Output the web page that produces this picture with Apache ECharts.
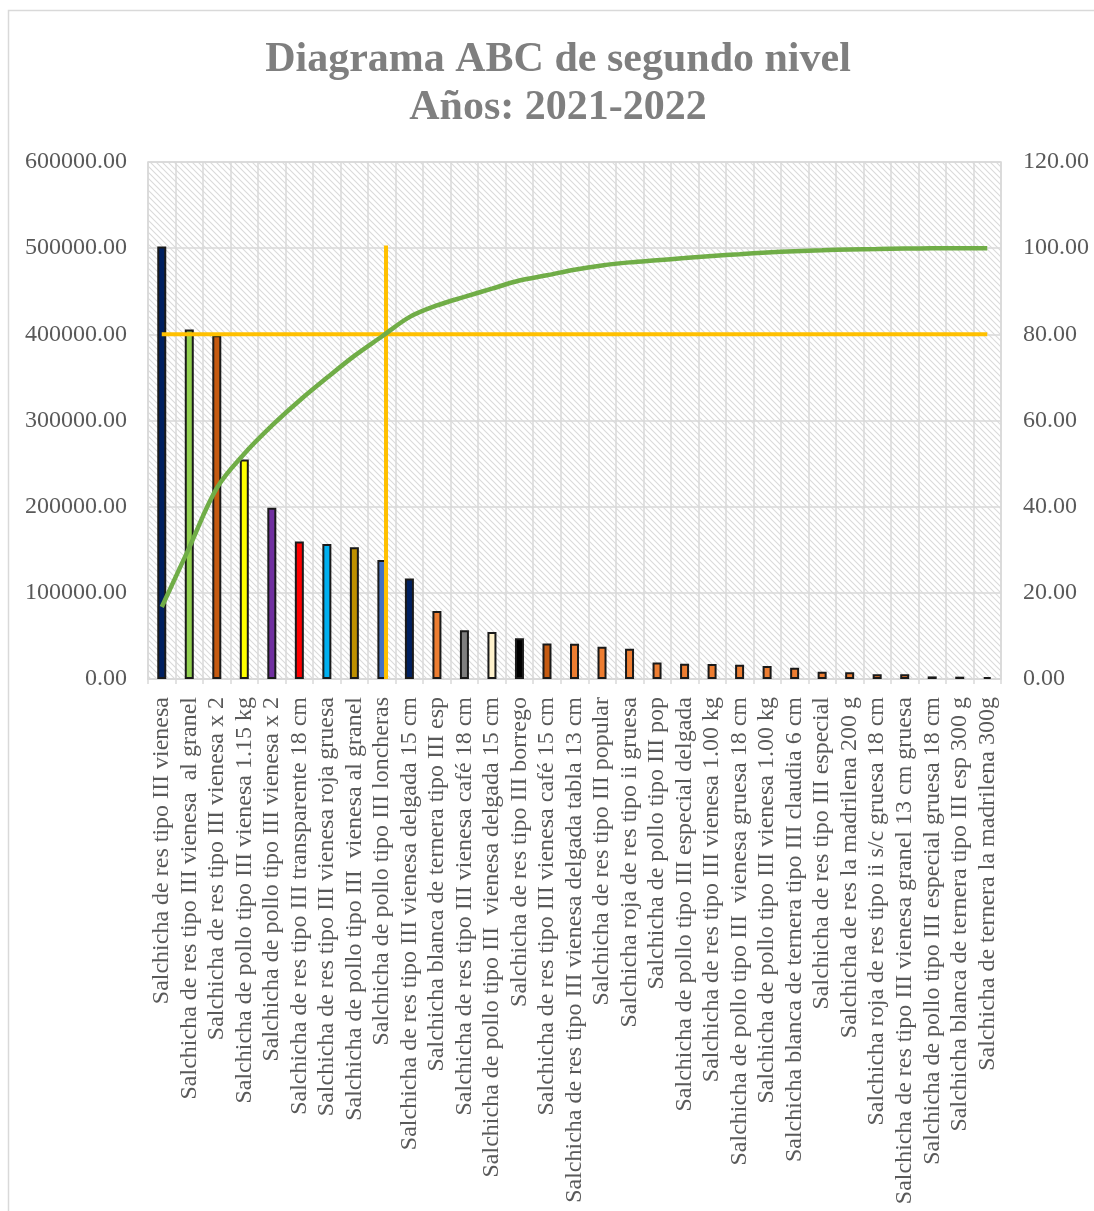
<!DOCTYPE html>
<html>
<head>
<meta charset="utf-8">
<script src="https://cdn.jsdelivr.net/npm/echarts@6/dist/echarts.min.js"></script>
<style>
  html, body { margin: 0; padding: 0; background: #ffffff; }
  #chart { width: 1094px; height: 1211px; }
</style>
</head>
<body>
<div id="chart"></div>
<script>
const titleText = 'Diagrama ABC de segundo nivel\nAños: 2021-2022';

const categories = [
  'Salchicha de res tipo III vienesa',
  'Salchicha de res tipo III vienesa  al granel',
  'Salchicha de res tipo III vienesa x 2',
  'Salchicha de pollo tipo III vienesa 1.15 kg',
  'Salchicha de pollo tipo III vienesa x 2',
  'Salchicha de res tipo III transparente 18 cm',
  'Salchicha de res tipo III vienesa roja gruesa',
  'Salchicha de pollo tipo III  vienesa al granel',
  'Salchicha de pollo tipo III loncheras',
  'Salchicha de res tipo III vienesa delgada 15 cm',
  'Salchicha blanca de ternera tipo III esp',
  'Salchicha de res tipo III vienesa café 18 cm',
  'Salchicha de pollo tipo III  vienesa delgada 15 cm',
  'Salchicha de res tipo III borrego',
  'Salchicha de res tipo III vienesa café 15 cm',
  'Salchicha de res tipo III vienesa delgada tabla 13 cm',
  'Salchicha de res tipo III popular',
  'Salchicha roja de res tipo ii gruesa',
  'Salchicha de pollo tipo III pop',
  'Salchicha de pollo tipo III especial delgada',
  'Salchicha de res tipo III vienesa 1.00 kg',
  'Salchicha de pollo tipo III  vienesa gruesa 18 cm',
  'Salchicha de pollo tipo III vienesa 1.00 kg',
  'Salchicha blanca de ternera tipo III claudia 6 cm',
  'Salchicha de res tipo III especial',
  'Salchicha de res la madrilena 200 g',
  'Salchicha roja de res tipo ii s/c gruesa 18 cm',
  'Salchicha de res tipo III vienesa granel 13 cm gruesa',
  'Salchicha de pollo tipo III especial gruesa 18 cm',
  'Salchicha blanca de ternera tipo III esp 300 g',
  'Salchicha de ternera la madrilena 300g'
];

const salesValues = [
  502000, 405600, 399000, 254800, 198800, 159600, 156800, 152800, 138000, 116500,
  78800, 56500, 54600, 47300, 41200, 40800, 37300, 35000, 19200, 17700,
  17300, 16500, 15000, 13000, 8500, 7700, 5400, 5400, 3000, 2700, 2300
];

const cumulativePct = [
  16.7, 30.5, 44.3, 52.3, 58.8, 64.6, 69.9, 75.0, 79.5, 84.0,
  86.7, 88.7, 90.6, 92.5, 93.7, 95.0, 96.0, 96.7, 97.2, 97.7,
  98.2, 98.6, 99.0, 99.3, 99.5, 99.7, 99.8, 99.9, 100.0, 100.0, 100.0
];

const barColors = [
  '#002060', '#92d050', '#c55a11', '#ffff00', '#7030a0', '#ff0000', '#00b0f0', '#bf9000', '#4472c4', '#002060',
  '#ed7d31', '#7f7f7f', '#fff2cc', '#000000', '#c55a11', '#ed7d31', '#ed7d31', '#ed7d31', '#ed7d31', '#ed7d31',
  '#ed7d31', '#ed7d31', '#ed7d31', '#ed7d31', '#ed7d31', '#ed7d31', '#ed7d31', '#ed7d31', '#ed7d31', '#ed7d31', '#ed7d31'
];

// Reference lines (ABC cutoff)
const cutoffPct = 80;            // horizontal reference at 80 %
const cutoffCategoryPos = 8.15;  // vertical reference position (category index units)
const cutoffTopPct = 100.6;      // top of vertical reference line

const leftTicks = { min: 0, max: 600000, interval: 100000 };
const rightTicks = { min: 0, max: 120, interval: 20 };

function makeHatch() {
  const s = 6;
  const c = document.createElement('canvas');
  c.width = s; c.height = s;
  const g = c.getContext('2d');
  g.fillStyle = '#ffffff';
  g.fillRect(0, 0, s, s);
  g.strokeStyle = '#dadada';
  g.lineWidth = 1.1;
  g.beginPath();
  g.moveTo(-1, -1); g.lineTo(s + 1, s + 1);
  g.moveTo(s - 1, -1); g.lineTo(s + 1, 1);
  g.moveTo(-1, s - 1); g.lineTo(1, s + 1);
  g.stroke();
  return c;
}

const FONT = '"Liberation Serif", "Times New Roman", serif';
const chart = echarts.init(document.getElementById('chart'), null, { renderer: 'canvas' });

const lastIdx = categories.length - 1;

chart.setOption({
  animation: false,
  backgroundColor: '#ffffff',
  graphic: [{
    type: 'rect',
    z: -10,
    shape: { x: 8.5, y: 10.5, width: 1110, height: 1230 },
    style: { fill: 'none', stroke: '#d9d9d9', lineWidth: 1.5 }
  }],
  title: {
    text: titleText,
    left: 553,
    top: 31,
    textAlign: 'center',
    textStyle: {
      fontFamily: FONT,
      fontWeight: 'bold',
      fontSize: 42,
      lineHeight: 48,
      color: '#7f7f7f'
    }
  },
  grid: {
    left: 148,
    top: 162,
    width: 853,
    height: 517,
    show: true,
    backgroundColor: { image: makeHatch(), repeat: 'repeat' },
    borderColor: '#d9d9d9',
    borderWidth: 1.5,
    containLabel: false
  },
  xAxis: [{
    type: 'category',
    data: categories,
    boundaryGap: true,
    axisLine: { show: true, lineStyle: { color: '#d9d9d9', width: 1.5 } },
    axisTick: { show: true, interval: 0, length: 5, lineStyle: { color: '#d9d9d9', width: 1.5 } },
    splitLine: { show: true, interval: 0, lineStyle: { color: '#d9d9d9', width: 1.5 } },
    axisLabel: {
      interval: 0,
      rotate: 90,
      margin: 18,
      fontFamily: FONT,
      fontSize: 24,
      color: '#595959'
    }
  }, {
    type: 'value',
    min: -0.5,
    max: lastIdx + 0.5,
    show: false
  }],
  yAxis: [{
    type: 'value',
    min: leftTicks.min,
    max: leftTicks.max,
    interval: leftTicks.interval,
    axisLine: { show: false },
    axisTick: { show: false },
    splitLine: { show: true, lineStyle: { color: '#d9d9d9', width: 1.5 } },
    axisLabel: {
      margin: 21,
      fontFamily: FONT,
      fontSize: 24,
      color: '#595959',
      formatter: v => v.toFixed(2)
    }
  }, {
    type: 'value',
    min: rightTicks.min,
    max: rightTicks.max,
    interval: rightTicks.interval,
    axisLine: { show: false },
    axisTick: { show: false },
    splitLine: { show: false },
    axisLabel: {
      margin: 22,
      fontFamily: FONT,
      fontSize: 24,
      color: '#595959',
      formatter: v => v.toFixed(2)
    }
  }],
  series: [{
    name: 'Ventas',
    type: 'bar',
    xAxisIndex: 0,
    yAxisIndex: 0,
    barWidth: 9,
    z: 2,
    data: salesValues.map((v, i) => ({
      value: v,
      itemStyle: { color: barColors[i], borderColor: '#1a1a1a', borderWidth: 2 }
    }))
  }, {
    name: 'Corte horizontal',
    type: 'line',
    xAxisIndex: 1,
    yAxisIndex: 1,
    z: 3,
    symbol: 'none',
    lineStyle: { color: '#ffc000', width: 4 },
    data: [[0, cutoffPct], [lastIdx, cutoffPct]]
  }, {
    name: 'Corte vertical',
    type: 'line',
    xAxisIndex: 1,
    yAxisIndex: 1,
    z: 3,
    symbol: 'none',
    lineStyle: { color: '#ffc000', width: 4 },
    data: [[cutoffCategoryPos, 0], [cutoffCategoryPos, cutoffTopPct]]
  }, {
    name: '% acumulado',
    type: 'line',
    xAxisIndex: 0,
    yAxisIndex: 1,
    z: 4,
    smooth: 0.35,
    symbol: 'none',
    lineStyle: { color: '#70ad47', width: 4.5 },
    data: cumulativePct
  }]
});
</script>
</body>
</html>
